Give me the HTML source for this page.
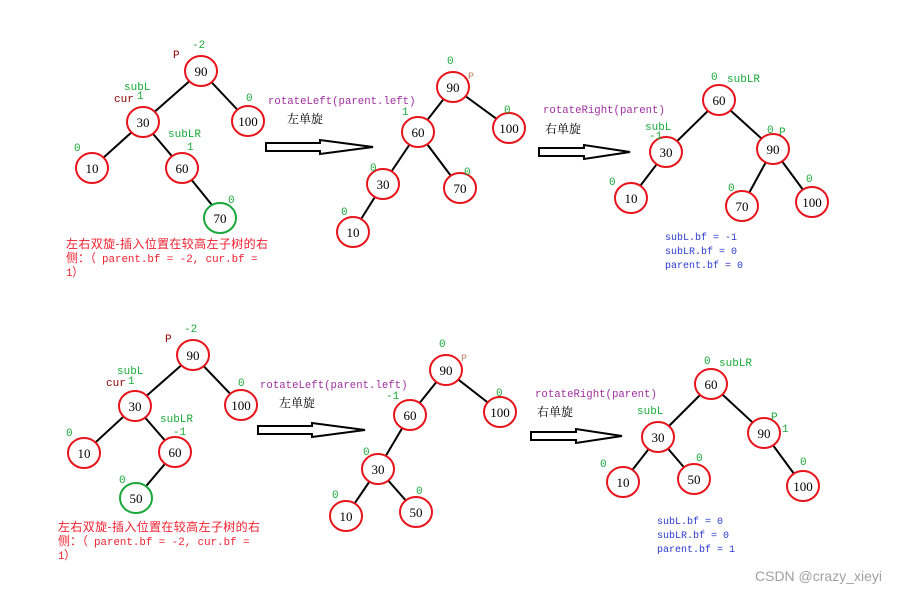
<!DOCTYPE html>
<html><head><meta charset="utf-8"><style>
body{margin:0;background:#fff}
svg{display:block}
.n ellipse{fill:#fff;stroke:#e8141c;stroke-width:2}
.n.g ellipse{stroke:#1aa83a}
.n text{font:13px "Liberation Serif",serif;fill:#000;text-anchor:middle}
.e{stroke:#000;stroke-width:2}
.gr{font:11px "Liberation Mono",monospace;fill:#1aaa3a}
.dr{font:11px "Liberation Mono",monospace;fill:#8b0000}
.pu{font:10.7px "Liberation Mono",monospace;fill:#a030a0}
.bl{font:10px "Liberation Mono",monospace;fill:#2a3ad0}
.rd{font:10.8px "Liberation Mono",monospace;fill:#f02030}
.rc{font:12px "Noto Sans CJK SC",sans-serif;fill:#f02030}
.cn{font:12px "Liberation Serif","Noto Serif CJK SC",serif;fill:#000}
.ar{fill:#fff;stroke:#000;stroke-width:2}
</style></head><body>
<svg width="908" height="594" viewBox="0 0 908 594" xmlns="http://www.w3.org/2000/svg">
<!-- Diagram 1 -->
<g class="e"><line x1="201" y1="71" x2="143" y2="122"/><line x1="201" y1="71" x2="248" y2="121"/><line x1="143" y1="122" x2="92" y2="168"/><line x1="143" y1="122" x2="182" y2="168"/><line x1="182" y1="168" x2="220" y2="215"/></g>
<g class="n"><ellipse cx="201" cy="71" rx="16" ry="15"/><text x="201" y="76">90</text></g>
<g class="n"><ellipse cx="248" cy="121" rx="16" ry="15"/><text x="248" y="126">100</text></g>
<g class="n"><ellipse cx="143" cy="122" rx="16" ry="15"/><text x="143" y="127">30</text></g>
<g class="n"><ellipse cx="92" cy="168" rx="16" ry="15"/><text x="92" y="173">10</text></g>
<g class="n"><ellipse cx="182" cy="168" rx="16" ry="15"/><text x="182" y="173">60</text></g>
<g class="n g"><ellipse cx="220" cy="218" rx="16" ry="15"/><text x="220" y="223">70</text></g>
<text class="dr" x="173" y="58">P</text><text class="gr" x="192" y="48">-2</text>
<text class="gr" x="124" y="90">subL</text><text class="dr" x="114" y="102">cur</text><text class="gr" x="137" y="99">1</text>
<text class="gr" x="246" y="101">0</text><text class="gr" x="74" y="151">0</text>
<text class="gr" x="168" y="137">subLR</text><text class="gr" x="187" y="150">1</text><text class="gr" x="228" y="203">0</text>
<text class="rc" x="66" y="248" textLength="202">左右双旋-插入位置在较高左子树的右</text>
<text class="rc" x="66" y="262">侧：（</text><text class="rd" x="102" y="262">parent.bf = -2, cur.bf =</text>
<text class="rd" x="66" y="276">1</text><text class="rc" x="72" y="276">）</text>
<text class="pu" x="268" y="104">rotateLeft(parent.left)</text><text class="cn" x="287" y="123">左单旋</text>
<path class="ar" d="M266 143 H320 V140 L373 147 L320 154 V151 H266 Z"/>
<!-- Diagram 2 -->
<g class="e"><line x1="453" y1="87" x2="418" y2="132"/><line x1="453" y1="87" x2="509" y2="128"/><line x1="418" y1="132" x2="383" y2="184"/><line x1="418" y1="132" x2="460" y2="188"/><line x1="383" y1="184" x2="353" y2="232"/></g>
<g class="n"><ellipse cx="453" cy="87" rx="16" ry="15"/><text x="453" y="92">90</text></g>
<g class="n"><ellipse cx="509" cy="128" rx="16" ry="15"/><text x="509" y="133">100</text></g>
<g class="n"><ellipse cx="418" cy="132" rx="16" ry="15"/><text x="418" y="137">60</text></g>
<g class="n"><ellipse cx="383" cy="184" rx="16" ry="15"/><text x="383" y="189">30</text></g>
<g class="n"><ellipse cx="460" cy="188" rx="16" ry="15"/><text x="460" y="193">70</text></g>
<g class="n"><ellipse cx="353" cy="232" rx="16" ry="15"/><text x="353" y="237">10</text></g>
<text class="gr" x="447" y="64">0</text><text x="468" y="79" style="font:10px 'Liberation Mono',monospace;fill:#c08060">P</text>
<text class="gr" x="504" y="113">0</text><text class="gr" x="402" y="115">1</text><text class="gr" x="370" y="171">0</text>
<text class="gr" x="464" y="175">0</text><text class="gr" x="341" y="215">0</text>
<text class="pu" x="543" y="113">rotateRight(parent)</text><text class="cn" x="545" y="133">右单旋</text>
<path class="ar" d="M539 148 H584 V145 L630 152 L584 159 V156 H539 Z"/>
<!-- Diagram 3 -->
<g class="e"><line x1="719" y1="100" x2="666" y2="152"/><line x1="719" y1="100" x2="773" y2="149"/><line x1="666" y1="152" x2="631" y2="198"/><line x1="773" y1="149" x2="742" y2="206"/><line x1="773" y1="149" x2="812" y2="202"/></g>
<g class="n"><ellipse cx="719" cy="100" rx="16" ry="15"/><text x="719" y="105">60</text></g>
<g class="n"><ellipse cx="666" cy="152" rx="16" ry="15"/><text x="666" y="157">30</text></g>
<g class="n"><ellipse cx="773" cy="149" rx="16" ry="15"/><text x="773" y="154">90</text></g>
<g class="n"><ellipse cx="631" cy="198" rx="16" ry="15"/><text x="631" y="203">10</text></g>
<g class="n"><ellipse cx="742" cy="206" rx="16" ry="15"/><text x="742" y="211">70</text></g>
<g class="n"><ellipse cx="812" cy="202" rx="16" ry="15"/><text x="812" y="207">100</text></g>
<text class="gr" x="711" y="80">0</text><text class="gr" x="727" y="82">subLR</text>
<text class="gr" x="645" y="130">subL</text><text class="gr" x="649" y="139">-1</text>
<text class="gr" x="767" y="133">0</text><text class="gr" x="779" y="135">P</text>
<text class="gr" x="609" y="185">0</text><text class="gr" x="728" y="191">0</text><text class="gr" x="806" y="182">0</text>
<text class="bl" x="665" y="240">subL.bf = -1</text><text class="bl" x="665" y="254">subLR.bf = 0</text><text class="bl" x="665" y="268">parent.bf = 0</text>
<!-- Diagram 4 -->
<g class="e"><line x1="193" y1="355" x2="135" y2="406"/><line x1="193" y1="355" x2="241" y2="405"/><line x1="135" y1="406" x2="84" y2="453"/><line x1="135" y1="406" x2="175" y2="452"/><line x1="175" y1="452" x2="136" y2="498"/></g>
<g class="n"><ellipse cx="193" cy="355" rx="16" ry="15"/><text x="193" y="360">90</text></g>
<g class="n"><ellipse cx="241" cy="405" rx="16" ry="15"/><text x="241" y="410">100</text></g>
<g class="n"><ellipse cx="135" cy="406" rx="16" ry="15"/><text x="135" y="411">30</text></g>
<g class="n"><ellipse cx="84" cy="453" rx="16" ry="15"/><text x="84" y="458">10</text></g>
<g class="n"><ellipse cx="175" cy="452" rx="16" ry="15"/><text x="175" y="457">60</text></g>
<g class="n g"><ellipse cx="136" cy="498" rx="16" ry="15"/><text x="136" y="503">50</text></g>
<text class="dr" x="165" y="342">P</text><text class="gr" x="184" y="332">-2</text>
<text class="gr" x="117" y="374">subL</text><text class="dr" x="106" y="386">cur</text><text class="gr" x="128" y="384">1</text>
<text class="gr" x="238" y="386">0</text><text class="gr" x="66" y="436">0</text>
<text class="gr" x="160" y="422">subLR</text><text class="gr" x="173" y="435">-1</text><text class="gr" x="119" y="483">0</text>
<text class="rc" x="58" y="531" textLength="202">左右双旋-插入位置在较高左子树的右</text>
<text class="rc" x="58" y="545">侧：（</text><text class="rd" x="94" y="545">parent.bf = -2, cur.bf =</text>
<text class="rd" x="58" y="559">1</text><text class="rc" x="64" y="559">）</text>
<text class="pu" x="260" y="388">rotateLeft(parent.left)</text><text class="cn" x="279" y="407">左单旋</text>
<path class="ar" d="M258 426 H312 V423 L365 430 L312 437 V434 H258 Z"/>
<!-- Diagram 5 -->
<g class="e"><line x1="446" y1="370" x2="410" y2="415"/><line x1="446" y1="370" x2="500" y2="412"/><line x1="410" y1="415" x2="378" y2="469"/><line x1="378" y1="469" x2="346" y2="516"/><line x1="378" y1="469" x2="416" y2="512"/></g>
<g class="n"><ellipse cx="446" cy="370" rx="16" ry="15"/><text x="446" y="375">90</text></g>
<g class="n"><ellipse cx="500" cy="412" rx="16" ry="15"/><text x="500" y="417">100</text></g>
<g class="n"><ellipse cx="410" cy="415" rx="16" ry="15"/><text x="410" y="420">60</text></g>
<g class="n"><ellipse cx="378" cy="469" rx="16" ry="15"/><text x="378" y="474">30</text></g>
<g class="n"><ellipse cx="346" cy="516" rx="16" ry="15"/><text x="346" y="521">10</text></g>
<g class="n"><ellipse cx="416" cy="512" rx="16" ry="15"/><text x="416" y="517">50</text></g>
<text class="gr" x="439" y="347">0</text><text x="461" y="361" style="font:10px 'Liberation Mono',monospace;fill:#c08060">P</text>
<text class="gr" x="496" y="396">0</text><text class="gr" x="386" y="399">-1</text><text class="gr" x="363" y="455">0</text>
<text class="gr" x="332" y="498">0</text><text class="gr" x="416" y="494">0</text>
<text class="pu" x="535" y="397">rotateRight(parent)</text><text class="cn" x="537" y="416">右单旋</text>
<path class="ar" d="M531 432 H576 V429 L622 436 L576 443 V440 H531 Z"/>
<!-- Diagram 6 -->
<g class="e"><line x1="711" y1="384" x2="658" y2="437"/><line x1="711" y1="384" x2="764" y2="433"/><line x1="658" y1="437" x2="623" y2="482"/><line x1="658" y1="437" x2="694" y2="479"/><line x1="764" y1="433" x2="803" y2="486"/></g>
<g class="n"><ellipse cx="711" cy="384" rx="16" ry="15"/><text x="711" y="389">60</text></g>
<g class="n"><ellipse cx="658" cy="437" rx="16" ry="15"/><text x="658" y="442">30</text></g>
<g class="n"><ellipse cx="764" cy="433" rx="16" ry="15"/><text x="764" y="438">90</text></g>
<g class="n"><ellipse cx="623" cy="482" rx="16" ry="15"/><text x="623" y="487">10</text></g>
<g class="n"><ellipse cx="694" cy="479" rx="16" ry="15"/><text x="694" y="484">50</text></g>
<g class="n"><ellipse cx="803" cy="486" rx="16" ry="15"/><text x="803" y="491">100</text></g>
<text class="gr" x="704" y="364">0</text><text class="gr" x="719" y="366">subLR</text>
<text class="gr" x="637" y="414">subL</text>
<text class="gr" x="771" y="420">P</text><text class="gr" x="782" y="432">1</text>
<text class="gr" x="600" y="467">0</text><text class="gr" x="696" y="461">0</text><text class="gr" x="800" y="465">0</text>
<text class="bl" x="657" y="524">subL.bf = 0</text><text class="bl" x="657" y="538">subLR.bf = 0</text><text class="bl" x="657" y="552">parent.bf = 1</text>
<text x="755" y="581" style="font:14px 'Liberation Sans',sans-serif;fill:#a0a0a0">CSDN @crazy_xieyi</text>
</svg>
</body></html>
